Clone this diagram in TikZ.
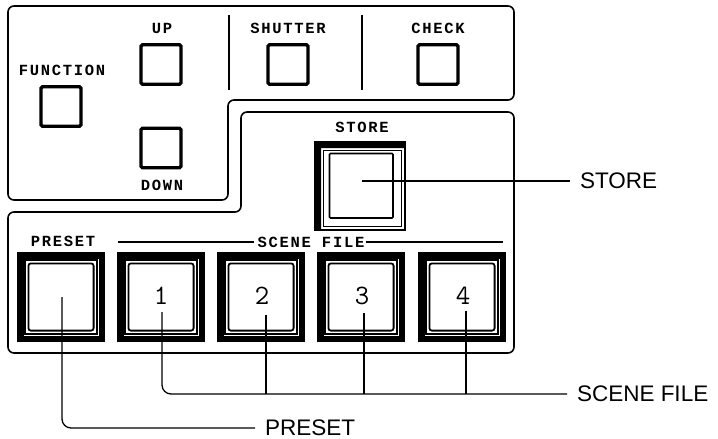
\documentclass[tikz,border=0pt]{standalone}
\usepackage{fontspec}
\newfontfamily\lblfont[LetterSpace=11]{Liberation Mono Bold}
\newfontfamily\callfont{Liberation Sans}
\tikzset{
  panel/.style={line width=1.6pt, rounded corners=6pt},
  tbtn/.style={draw, line width=3.4pt, rounded corners=1.5pt, minimum width=40pt, minimum height=39.5pt, inner sep=0pt},
  lbl/.style={font=\lblfont\fontsize{15.5}{16}\selectfont, inner sep=0pt},
  digit/.style={font=\ttfamily\fontsize{28}{28}\selectfont, inner sep=0pt},
  sepline/.style={line width=1.4pt},
  leader/.style={line width=1.3pt, rounded corners=9pt},
  callout/.style={font=\callfont\fontsize{22.5}{24}\selectfont, anchor=west, inner xsep=0pt, outer xsep=10pt, inner ysep=0pt},
}
\newcommand\myscenebtn[1]{%
  \begin{scope}[shift={#1}]
    \fill[black] (-44,-45) rectangle (44,45);
    \fill[white] (-37.5,-38.5) rectangle (37.5,38.5);
    \fill[black] (-36.7,-37.7) rectangle (36.7,37.7);
    \fill[white] (-34.6,-35.6) rectangle (34.6,35.6);
    \draw[line width=1.8pt, rounded corners=2.5pt] (-32.6,-33.6) rectangle (32.6,33.6);
  \end{scope}}
\begin{document}
\begin{tikzpicture}[x=1pt,y=-1pt]
\useasboundingbox (0,0) rectangle (718,439);
% panels
\draw[panel] (8,6) -- (514,6) -- (514,100) -- (228,100) -- (228,200) -- (8,200) -- cycle;
\draw[panel] (241,112) -- (514,112) -- (514,353) -- (8,353) -- (8,212) -- (241,212) -- cycle;
% separators
\coordinate (sa1) at (229,15); \coordinate (sa2) at (229,90);
\coordinate (sb1) at (362,15); \coordinate (sb2) at (362,90);
\draw[sepline] (sa1) -- (sa2);
\draw[sepline] (sb1) -- (sb2);
% top buttons
\node[tbtn] (fn) at (61,106.5) {};
\node[tbtn] (up) at (161,64.5) {};
\node[tbtn] (dn) at (161,148) {};
\node[tbtn] (sh) at (288,64.5) {};
\node[tbtn] (ck) at (438,64.5) {};
\node[lbl] (fnl) at (62,70) {FUNCTION};
\node[lbl] (upl) at (162,28) {UP};
\node[lbl] (dnl) at (162,185) {DOWN};
\node[lbl] (shl) at (288,28) {SHUTTER};
\node[lbl] (ckl) at (438,28) {CHECK};
\node[lbl] (stl) at (362,127) {STORE};
% store button
\fill[black] (315,230) -- (315,142) -- (405,142) -- (405,148) -- (321,148) -- (321,230) -- cycle;
\draw[line width=1.2pt] (315,142) rectangle (405,230);
\draw[line width=0.9pt] (323,150) rectangle (401,226);
\draw[line width=1.6pt, rounded corners=1pt] (329.5,153.5) rectangle (393,218);
\coordinate (stin) at (362,181);
% preset & scene buttons
\myscenebtn{(61,297)}
\myscenebtn{(161,297)}
\myscenebtn{(261,297)}
\myscenebtn{(361,297)}
\myscenebtn{(462,297)}
\node[lbl] (prl) at (63,241) {PRESET};
\node[lbl] (sfl) at (311,242) {SCENE FILE};
\coordinate (sfa) at (118,242); \coordinate (sfb) at (503,242);
\draw[line width=1.2pt] (sfa) -- ([xshift=-3pt]sfl.west);
\draw[line width=1.2pt] ([xshift=1pt]sfl.east) -- (sfb);
\node[digit] (d1) at (161,296) {1};
\node[digit] (d2) at (262,296) {2};
\node[digit] (d3) at (362,296) {3};
\node[digit] (d4) at (463,296) {4};
% callouts
\node[callout] (cst) at (570,181) {STORE};
\node[callout] (csf) at (567,394) {SCENE FILE};
\node[callout] (cpr) at (255,428) {PRESET};
\coordinate (p0) at (62,297);
\coordinate (s1) at (162,312);
\coordinate (s2) at (266,315);
\coordinate (s3) at (364,313);
\coordinate (s4) at (466,311);
\draw[line width=1.3pt] (stin) -- (cst.west);
\draw[leader] (s1) |- (csf.west);
\draw[line width=1.3pt] (s2) -- (s2 |- csf.west);
\draw[line width=1.3pt] (s3) -- (s3 |- csf.west);
\draw[line width=1.3pt] (s4) -- (s4 |- csf.west);
\draw[leader] (p0) |- (cpr.west);
\end{tikzpicture}
\end{document}
